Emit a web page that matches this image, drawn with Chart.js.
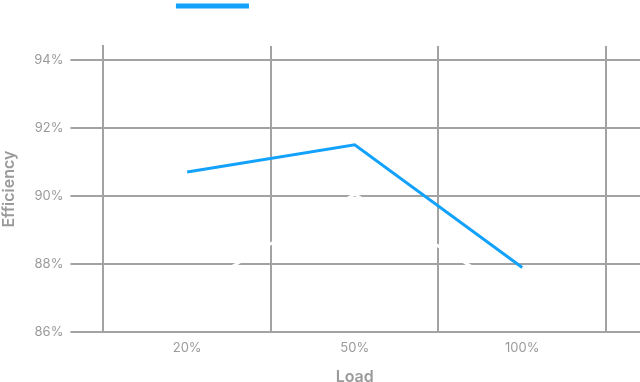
<!DOCTYPE html>
<html>
<head>
<meta charset="utf-8">
<script src="https://cdn.jsdelivr.net/npm/chart.js@4"></script>
<style>
html,body{margin:0;padding:0;background:#fff;overflow:hidden;}
#wrap{width:640px;height:382px;position:relative;}
</style>
</head>
<body>
<div id="wrap"><canvas id="c"></canvas></div>
<script>
const categories = ['20%', '50%', '100%'];
const seriesNames = ['Model 230V', 'Model 115V'];
const efficiencyBlue = [90.7, 91.5, 87.9];
const efficiencyWhite = [87.15, 90.05, 87.0];
const yMin = 86, yMax = 94.4, yStep = 2;

const legendSpace = {
  id: 'legendSpace',
  beforeInit(chart) {
    const origFit = chart.legend.fit;
    chart.legend.fit = function () {
      origFit.bind(chart.legend)();
      this.height += 24;
    };
  }
};

const gray = '#a2a2a2';
const textGray = '#9a9a9a';
Chart.defaults.font.family = 'Inter, sans-serif';

new Chart(document.getElementById('c'), {
  type: 'line',
  data: {
    labels: categories,
    datasets: [
      {
        label: seriesNames[0],
        data: efficiencyBlue,
        borderColor: '#12a2fc',
        backgroundColor: '#12a2fc',
        borderWidth: 3,
        pointRadius: 0,
        tension: 0,
        order: 0
      },
      {
        label: seriesNames[1],
        data: efficiencyWhite,
        borderColor: '#ffffff',
        backgroundColor: '#ffffff',
        borderWidth: 3,
        pointRadius: 0,
        tension: 0,
        order: 1
      }
    ]
  },
  options: {
    responsive: true,
    maintainAspectRatio: false,
    animation: false,
    layout: { padding: { left: 0, right: 0, top: 0, bottom: 0 } },
    plugins: {
      legend: {
        display: true,
        position: 'top',
        labels: {
          boxWidth: 70,
          boxHeight: 2,
          padding: 0,
          color: '#ffffff',
          font: { size: 12 }
        }
      },
      tooltip: { enabled: false }
    },
    scales: {
      x: {
        offset: true,
        grid: { color: gray, lineWidth: 2, drawTicks: false, offset: true },
        border: { color: gray, width: 2 },
        ticks: { color: textGray, font: { size: 13 }, padding: 8 },
        title: { display: true, text: 'Load', color: textGray, font: { size: 16, weight: '600' }, padding: { top: 4, bottom: -5 } }
      },
      y: {
        min: yMin,
        max: yMax,
        grid: { color: gray, lineWidth: 2, tickLength: 33 },
        border: { color: gray, width: 2 },
        ticks: {
          stepSize: yStep,
          includeBounds: false,
          color: textGray,
          font: { size: 13 },
          padding: 7,
          callback: v => v + '%'
        },
        title: { display: true, text: 'Efficiency', color: textGray, font: { size: 16, weight: '600' }, padding: { top: 0, bottom: 8 } }
      },
      yRight: {
        position: 'right',
        min: yMin,
        max: yMax,
        grid: { color: gray, lineWidth: 2, tickLength: 34, drawOnChartArea: false, drawTicks: true },
        border: { display: false },
        ticks: { stepSize: yStep, includeBounds: false, display: false }
      }
    }
  },
  plugins: [legendSpace]
});
</script>
</body>
</html>
